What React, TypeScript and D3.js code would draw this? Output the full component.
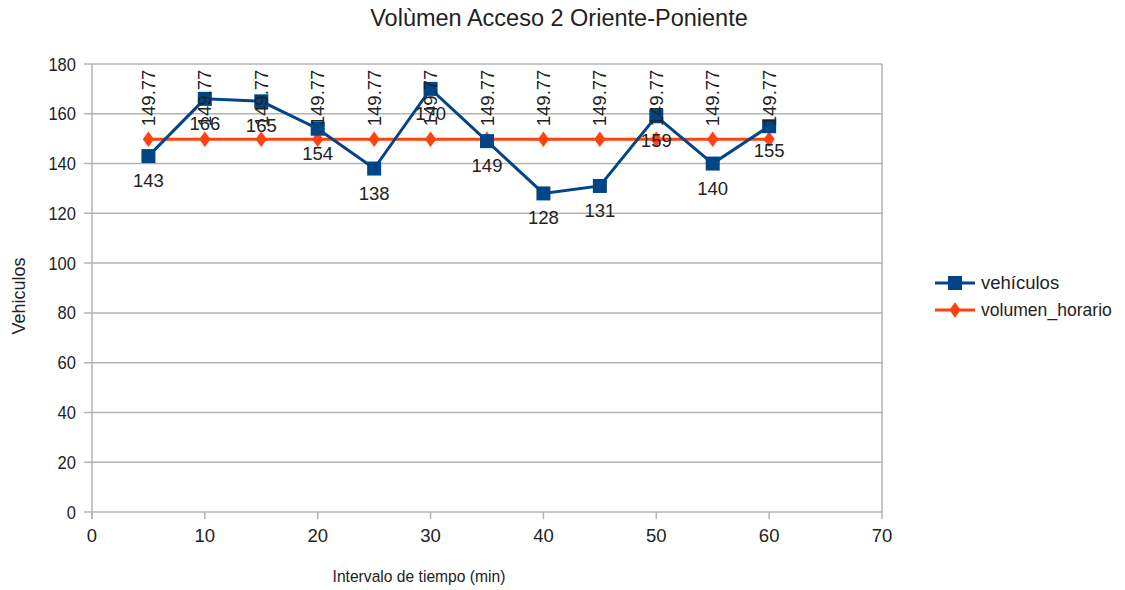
import React from "react";
import * as d3 from "d3";

const minutes = [5, 10, 15, 20, 25, 30, 35, 40, 45, 50, 55, 60];
const vehiculos = [143, 166, 165, 154, 138, 170, 149, 128, 131, 159, 140, 155];
const volumenHorario = [149.77, 149.77, 149.77, 149.77, 149.77, 149.77, 149.77, 149.77, 149.77, 149.77, 149.77, 149.77];
const xTicks = [0, 10, 20, 30, 40, 50, 60, 70];
const yTicks = [0, 20, 40, 60, 80, 100, 120, 140, 160, 180];

const BLUE = "#004586";
const ORANGE = "#ff420e";
const GRID = "#b3b3b3";
const FONT = "'Liberation Sans', Arial, sans-serif";

export default function App() {
  const W = 1125, H = 590;
  const x = d3.scaleLinear().domain([0, 70]).range([92, 882]);
  const y = d3.scaleLinear().domain([0, 180]).range([512, 64]);
  const line = d3.line<number>().x((_, i) => x(minutes[i])).y(d => y(d));

  return (
    <svg width={W} height={H} style={{ position: "absolute", left: 0, top: 0, background: "#fff" }} fontFamily={FONT}>
      <rect width={W} height={H} fill="#fff" />
      <text x={559} y={26} textAnchor="middle" fontSize={23.5} fill="#222">Volùmen Acceso 2 Oriente-Poniente</text>
      {yTicks.map(t => (
        <g key={"y" + t}>
          <line x1={84} x2={882} y1={y(t)} y2={y(t)} stroke={GRID} strokeWidth={1.5} />
          <text transform={`translate(76,${y(t) + 6.5}) scale(0.92,1)`} textAnchor="end" fontSize={18} fill="#222">{t}</text>
        </g>
      ))}
      <line x1={92} x2={92} y1={y(180)} y2={519} stroke={GRID} strokeWidth={1.5} />
      <line x1={882} x2={882} y1={y(180)} y2={512} stroke={GRID} strokeWidth={1.5} />
      {xTicks.map(t => (
        <g key={"x" + t}>
          <line x1={x(t)} x2={x(t)} y1={512} y2={519} stroke={GRID} strokeWidth={1.5} />
          <text x={x(t)} y={541.5} textAnchor="middle" fontSize={18.5} fill="#222">{t}</text>
        </g>
      ))}
      <text transform={`translate(419,582) scale(0.92,1)`} textAnchor="middle" fontSize={17} fill="#222">Intervalo de tiempo (min)</text>
      <text transform={`translate(25,296) rotate(-90)`} textAnchor="middle" fontSize={18} fill="#222">Vehiculos</text>

      <path d={line(volumenHorario) || ""} fill="none" stroke={ORANGE} strokeWidth={3} />
      {volumenHorario.map((v, i) => (
        <path key={"d" + i} d={d3.symbol(d3.symbolDiamond, 110)() || ""} transform={`translate(${x(minutes[i])},${y(v)}) scale(1,0.8)`} fill={ORANGE} />
      ))}
      <path d={line(vehiculos) || ""} fill="none" stroke={BLUE} strokeWidth={3} />
      {vehiculos.map((v, i) => (
        <rect key={"s" + i} x={x(minutes[i]) - 7} y={y(v) - 7} width={14} height={14} fill={BLUE} />
      ))}
      {vehiculos.map((v, i) => (
        <text key={"lv" + i} x={x(minutes[i])} y={y(v) + 31} textAnchor="middle" fontSize={18.5} fill="#222">{v}</text>
      ))}
      {volumenHorario.map((v, i) => (
        <text key={"lh" + i} transform={`translate(${x(minutes[i]) + 6.5},${y(v) - 13}) rotate(-90)`} textAnchor="start" fontSize={18.5} fill="#222">{v.toFixed(2)}</text>
      ))}

      <line x1={935} x2={975} y1={283} y2={283} stroke={BLUE} strokeWidth={3} />
      <rect x={948} y={276} width={14} height={14} fill={BLUE} />
      <text x={981} y={289} fontSize={18.5} fill="#222">vehículos</text>
      <line x1={935} x2={975} y1={310} y2={310} stroke={ORANGE} strokeWidth={3} />
      <path d={d3.symbol(d3.symbolDiamond, 110)() || ""} transform={`translate(955,310) scale(1,0.8)`} fill={ORANGE} />
      <text transform={`translate(981,316) scale(0.95,1)`} fontSize={18.5} fill="#222">volumen_horario</text>
    </svg>
  );
}
